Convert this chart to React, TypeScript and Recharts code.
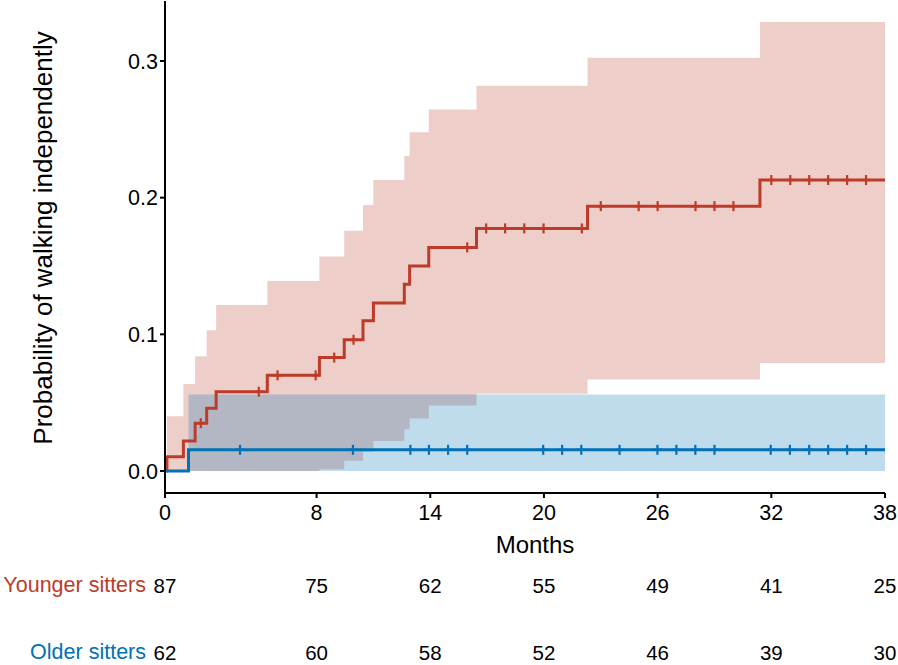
import React from 'react'
import { ComposedChart, Area, Line, Scatter, XAxis, YAxis } from 'recharts'

const RED = '#BC3C29'
const BLUE = '#0072B5'
const FONT = '"Liberation Sans", Arial, Helvetica, sans-serif'

// younger sitters: step times, estimate, 95% CI
const youngTimes = [0, 0.1, 0.97, 1.59, 2.2, 2.7, 5.4, 8.15, 9.46, 10.45, 11.0, 12.63, 12.91, 13.92, 16.44, 22.3, 31.4, 38]
const youngEst = [0, 0.0105, 0.022, 0.035, 0.046, 0.058, 0.07, 0.083, 0.096, 0.11, 0.123, 0.1366, 0.15, 0.1636, 0.1775, 0.1938, 0.2129, 0.2129]
const youngLow = [0, 0, 0, 0, 0, 0, 0, 0.0012, 0.0075, 0.014, 0.022, 0.0305, 0.0385, 0.048, 0.0565, 0.067, 0.079, 0.079]
const youngHigh = [0, 0.04, 0.0636, 0.084, 0.103, 0.1214, 0.139, 0.157, 0.1758, 0.1946, 0.2129, 0.2304, 0.2478, 0.2646, 0.2819, 0.3023, 0.3285, 0.3285]
const youngCensor = [1.89, 4.95, 5.94, 7.95, 8.93, 9.95, 15.95, 16.95, 17.95, 18.96, 19.98, 22.0, 23, 25, 26, 28, 29, 30, 32, 33, 34, 35, 36, 37]

// older sitters
const oldTimes = [0, 1.24, 38]
const oldEst = [0, 0.0155, 0.0155]
const oldLow = [0, 0, 0]
const oldHigh = [0, 0.056, 0.056]
const oldCensor = [3.96, 9.92, 12.95, 13.93, 14.94, 15.95, 19.96, 20.96, 21.97, 23.99, 25.99, 26.99, 27.99, 29, 31.97, 32.98, 34, 35, 36, 37]

// axis ticks
const xTicks = [0, 8, 14, 20, 26, 32, 38]
const yTicks = [0, 0.1, 0.2, 0.3]

// number at risk
const groupNames = ['Younger sitters', 'Older sitters']
const groupColors = [RED, BLUE]
const youngAtRisk = [87, 75, 62, 55, 49, 41, 25]
const oldAtRisk = [62, 60, 58, 52, 46, 39, 30]

const toSeries = (times: number[], est: number[], low: number[], high: number[]) =>
  times.map((t, i) => ({ t, est: est[i], range: [low[i], high[i]] }))

// value of the step curve at time t
const stepAt = (times: number[], est: number[], t: number) => {
  let v = est[0]
  for (let i = 0; i < times.length; i++) if (times[i] <= t) v = est[i]
  return v
}

const youngData = toSeries(youngTimes, youngEst, youngLow, youngHigh)
const oldData = toSeries(oldTimes, oldEst, oldLow, oldHigh)
const youngMarks = youngCensor.map((t) => ({ t, est: stepAt(youngTimes, youngEst, t) }))
const oldMarks = oldCensor.map((t) => ({ t, est: stepAt(oldTimes, oldEst, t) }))

const riskData = [
  ...xTicks.map((t, i) => ({ t, row: 1, n: youngAtRisk[i] })),
  ...xTicks.map((t, i) => ({ t, row: 0, n: oldAtRisk[i] })),
]

const cross = (color: string) => (props: any) => {
  const { cx, cy } = props
  if (cx == null || cy == null) return <g />
  return (
    <g stroke={color} strokeWidth={2.2}>
      <line x1={cx - 4.5} x2={cx + 4.5} y1={cy} y2={cy} />
      <line x1={cx} x2={cx} y1={cy - 5} y2={cy + 5} />
    </g>
  )
}

const YLabel = (props: any) => {
  const vb = props.viewBox || { x: 0, y: 1, width: 165, height: 492 }
  const x = vb.x + 52
  const y = vb.y + vb.height / 2 - 9
  return (
    <text x={x} y={y} transform={`rotate(-90 ${x} ${y})`} textAnchor="middle" fontSize={26} fontFamily={FONT} fill="#000">
      Probability of walking independently
    </text>
  )
}

const XLabel = (props: any) => {
  const vb = props.viewBox || { x: 165, y: 493, width: 720, height: 77 }
  return (
    <text x={vb.x + vb.width / 2 + 10} y={vb.y + 60} textAnchor="middle" fontSize={24} fontFamily={FONT} fill="#000">
      Months
    </text>
  )
}

const RiskTick = (props: any) => {
  const { x, y, payload } = props
  const g = payload.value === 1 ? 0 : 1
  return (
    <text x={x} y={y} textAnchor="end" dominantBaseline="central" fill={groupColors[g]} fontSize={21.5} fontFamily={FONT}>
      {groupNames[g]}
    </text>
  )
}

const RiskNumber = (props: any) => {
  const { cx, cy, payload } = props
  if (cx == null || cy == null) return <g />
  return (
    <text x={cx} y={cy} textAnchor="middle" dominantBaseline="central" fontSize={20.5} fontFamily={FONT} fill="#000">
      {payload.n}
    </text>
  )
}

export default function App() {
  return (
    <div style={{ position: 'absolute', left: 0, top: 0, width: 898, height: 665, background: '#fff' }}>
      <ComposedChart width={898} height={570} margin={{ top: 1, right: 13, left: 0, bottom: 0 }}>
        <XAxis
          dataKey="t"
          type="number"
          domain={[0, 38]}
          ticks={xTicks}
          allowDataOverflow
          height={77}
          stroke="#000"
          strokeWidth={2}
          tickSize={5}
          tickMargin={7}
          tick={{ fill: '#000', fontSize: 21.5, fontFamily: FONT }}
          label={XLabel}
        />
        <YAxis
          type="number"
          domain={[-0.0161, 0.3439]}
          ticks={yTicks}
          allowDataOverflow
          width={165}
          stroke="#000"
          strokeWidth={2}
          tickSize={5}
          tickMargin={2}
          tickFormatter={(v: number) => v.toFixed(1)}
          tick={{ fill: '#000', fontSize: 21.5, fontFamily: FONT }}
          label={YLabel}
        />
        <Area data={youngData} dataKey="range" type="stepAfter" stroke="none" fill={RED} fillOpacity={0.25} isAnimationActive={false} />
        <Area data={oldData} dataKey="range" type="stepAfter" stroke="none" fill={BLUE} fillOpacity={0.25} isAnimationActive={false} />
        <Line data={youngData} dataKey="est" type="stepAfter" stroke={RED} strokeWidth={3} dot={false} isAnimationActive={false} />
        <Line data={oldData} dataKey="est" type="stepAfter" stroke={BLUE} strokeWidth={3} dot={false} isAnimationActive={false} />
        <Scatter data={youngMarks} dataKey="est" shape={cross(RED)} isAnimationActive={false} />
        <Scatter data={oldMarks} dataKey="est" shape={cross(BLUE)} isAnimationActive={false} />
      </ComposedChart>
      <div style={{ position: 'absolute', left: 0, top: 570 }}>
        <ComposedChart width={898} height={95} margin={{ top: 15, right: 13, left: 0, bottom: 13 }}>
          <XAxis dataKey="t" type="number" domain={[0, 38]} hide />
          <YAxis
            type="number"
            domain={[0, 1]}
            ticks={[0, 1]}
            width={165}
            axisLine={false}
            tickLine={false}
            tickSize={0}
            tickMargin={19}
            tick={RiskTick}
          />
          <Scatter data={riskData} dataKey="row" shape={RiskNumber} isAnimationActive={false} />
        </ComposedChart>
      </div>
    </div>
  )
}
